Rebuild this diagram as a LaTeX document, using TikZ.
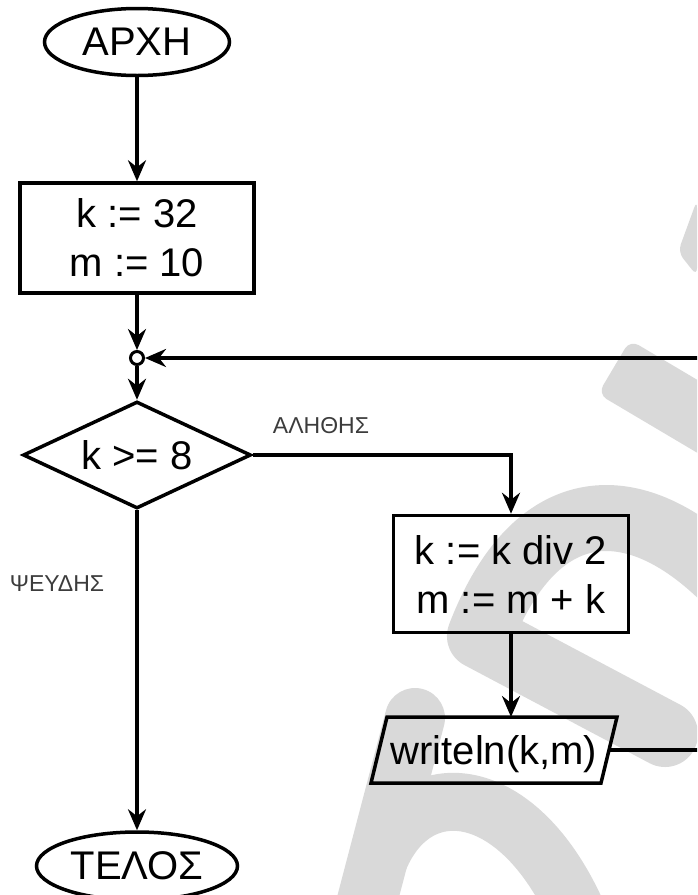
\documentclass[tikz,border=0pt]{standalone}
\usepackage{fontspec}
\setmainfont{Liberation Sans}
\usetikzlibrary{shapes.geometric,arrows.meta,calc}
\definecolor{wm}{RGB}{217,217,217}
\definecolor{lbl}{RGB}{60,60,60}
\begin{document}
\begin{tikzpicture}[x=1pt,y=-1pt,
  lw/.style={line width=3.5pt},
  term/.style={ellipse, draw, lw, minimum width=185pt, minimum height=67pt, inner sep=0pt, font=\fontsize{40}{48}\selectfont},
  proc/.style={rectangle, draw, lw, inner sep=0pt, align=center, font=\fontsize{40}{49}\selectfont},
  dec/.style={diamond, draw, lw, inner sep=0pt, shape aspect=2.13, minimum width=228pt, minimum height=107pt, font=\fontsize{40}{48}\selectfont},
  junc/.style={circle, draw, line width=3pt, fill=white, minimum size=13pt, inner sep=0pt},
  io/.style={inner sep=0pt, outer sep=0pt, minimum width=230pt, minimum height=66pt, text depth=0pt, font=\fontsize{40}{48}\selectfont},
  lab/.style={text=lbl, inner sep=0pt, font=\fontsize{23}{26}\selectfont},
  conn/.style={lw, -{Stealth[length=21pt,width=18pt,inset=7pt]}},
  wmark/.style={draw=wm, line width=66pt, line join=round}
]
\useasboundingbox (0,0) rectangle (697,895);
\clip (0,0) rectangle (697,895);

% watermark
\fill[wm, rounded corners=8pt] (697,200) -- (678,252) -- (697,276) -- cycle;
\fill[wm, rounded corners=10pt] (630,340) -- (760,417) -- (728,471) -- (598,394) -- cycle;
\draw[wmark, line cap=round] (745,600) .. controls (650,490) and (540,480) .. (480,636) -- (665,734);
\draw[wmark, line width=60pt, line cap=round] (415,718) -- (362,920);
\draw[wmark, line width=58pt] (366,920) .. controls (375,770) and (510,755) .. (580,920);

% nodes
\node[term] (start) at (137,42) {ΑΡΧΗ};
\node[proc, minimum width=234pt, minimum height=110pt] (init) at (137,238) {k := 32\\m := 10};
\node[junc] (j) at (137,358) {};
\node[dec] (cond) at (137,455) {k >= 8};
\node[proc, minimum width=235pt, minimum height=117pt] (upd) at (511,574) {k := k div 2\\m := m + k};
\node[io] (out) at (494,750) {writeln(k,m)};
\draw[lw, line join=miter] ($(out.north west)+(8,0)$) -- ($(out.north east)+(8,0)$) -- ($(out.south east)+(-8,0)$) -- ($(out.south west)+(-8,0)$) -- cycle;
\node[term, minimum width=201pt, minimum height=68pt] (end) at (137,866) {ΤΕΛΟΣ};
\node[lab] (t) at (321,426) {ΑΛΗΘΗΣ};
\node[lab] (f) at (57,584) {ΨΕΥΔΗΣ};
\coordinate (r) at (720,500);

% connectors
\draw[conn] (start) -- (init);
\draw[conn] (init) -- (j);
\draw[conn] (j) -- (cond);
\draw[conn] (cond.east) -| (upd.north);
\draw[conn] (upd.south) -- (upd.south |- out.north);
\draw[conn] (out.east) -- (out.east -| r) |- (j.east);
\draw[conn] (cond) -- (end);
\end{tikzpicture}
\end{document}
